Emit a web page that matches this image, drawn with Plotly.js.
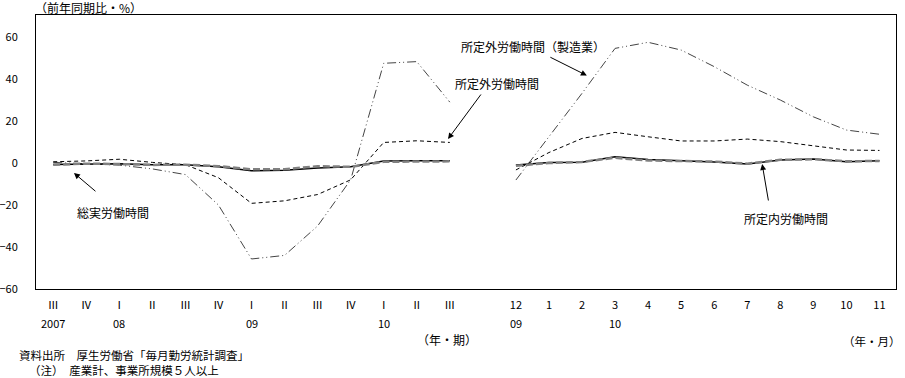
<!DOCTYPE html>
<html>
<head>
<meta charset="utf-8">
<script src="https://cdn.plot.ly/plotly-3.0.1.min.js"></script>
<style>html,body{margin:0;padding:0;background:#fff;}#chart{width:905px;height:378px;}</style>
</head>
<body>
<div id="chart"></div>
<script>
// ---- data ----
const quarterPos = [0,1,2,3,4,5,6,7,8,9,10,11,12];
const monthPos = [14,15,16,17,18,19,20,21,22,23,24,25];
const quarterLabels = ['Ⅲ','Ⅳ','Ⅰ','Ⅱ','Ⅲ','Ⅳ','Ⅰ','Ⅱ','Ⅲ','Ⅳ','Ⅰ','Ⅱ','Ⅲ'];
const quarterYears = ['2007','','08','','','','09','','','','10','',''];
const monthLabels = ['12','1','2','3','4','5','6','7','8','9','10','11'];
const monthYears = ['09','','','10','','','','','','','',''];

const totalQ = [-0.7,-0.5,-0.4,-0.8,-0.8,-1.8,-3.7,-3.5,-2.4,-1.8,1.0,1.1,1.1];
const totalM = [-1.0,0.2,0.4,3.0,1.7,1.1,0.5,-0.5,1.4,1.9,0.6,1.1];
const schedQ = [-0.8,-0.3,-0.5,-0.9,-0.8,-1.5,-3.0,-3.0,-1.5,-1.8,0.6,0.7,0.8];
const schedM = [-1.3,0.0,0.5,2.5,1.2,1.0,0.7,-0.3,1.5,1.8,0.8,1.0];
const overQ = [0.6,1.0,1.8,0.3,-0.8,-7.0,-19.2,-18.0,-15.0,-8.0,9.8,10.6,9.8];
const overM = [-3.3,5.0,11.7,14.6,12.5,10.5,10.5,11.4,10.2,8.3,6.2,6.0];
const mfgQ = [0.3,-0.5,-1.0,-2.8,-5.5,-20.0,-45.7,-44.0,-30.0,-8.0,47.5,48.3,29.0];
const mfgM = [-8.1,12.5,33.2,54.6,57.5,53.8,45.9,37.1,30.0,22.0,15.7,13.7];

// ---- helpers ----
const W = 905, H = 378;
const L = 35.5, R = 896.5, T = 15, B = 289;
const px = x => (x - L) / (R - L);
const py = y => (B - y) / (B - T);
const FONT = '"Noto Sans CJK JP", "Noto Sans", sans-serif';

const xs = quarterPos.concat([null], monthPos);
const join = (q, m) => q.concat([null], m);

const traces = [
  {x: xs, y: join(mfgQ, mfgM), mode: 'lines', connectgaps: false,
   line: {color: '#444', width: 1, dash: '9px,3px,1px,3px,1px,3px'}},
  {x: xs, y: join(overQ, overM), mode: 'lines', connectgaps: false,
   line: {color: '#000', width: 1, dash: '4px,3px'}},
  {x: xs, y: join(totalQ, totalM), mode: 'lines', connectgaps: false,
   line: {color: '#000', width: 1.5}},
  {x: xs, y: join(schedQ, schedM), mode: 'lines', connectgaps: false,
   line: {color: '#808080', width: 2.5, dash: '7px,3px'}}
];

const tickvals = quarterPos.concat(monthPos);
const ticktext = quarterLabels.concat(monthLabels);

const annotations = [];
// year row under tick labels
quarterPos.forEach((p, i) => { if (quarterYears[i]) annotations.push({x: p, xref: 'x', y: py(323), yref: 'paper', text: quarterYears[i], showarrow: false, xanchor: 'center', yanchor: 'middle', font: {size: 11}}); });
monthPos.forEach((p, i) => { if (monthYears[i]) annotations.push({x: p, xref: 'x', y: py(323), yref: 'paper', text: monthYears[i], showarrow: false, xanchor: 'center', yanchor: 'middle', font: {size: 11}}); });

const txt = (text, x, y, anchor, size) => ({x: px(x), y: py(y), xref: 'paper', yref: 'paper', text: text, showarrow: false, xanchor: anchor || 'center', yanchor: 'middle', font: {size: size || 12}});
annotations.push(txt('（前年同期比・%）', 88, 7));
annotations.push(txt('（年・期）', 447, 339));
annotations.push(txt('（年・月）', 904, 341, 'right', 11.5));
annotations.push(txt('資料出所　厚生労働省「毎月勤労統計調査」', 16, 355, 'left', 11.5));
annotations.push(txt('（注）　産業計、事業所規模５人以上', 26, 370.5, 'left', 11.5));
annotations.push(txt('総実労働時間', 113, 212));
annotations.push(txt('所定外労働時間（製造業）', 533, 47));
annotations.push(txt('所定外労働時間', 497, 83));
annotations.push(txt('所定内労働時間', 786, 218));

const arrow = (hx, hy, tx, ty) => ({x: px(hx), y: py(hy), xref: 'paper', yref: 'paper', ax: tx - hx, ay: ty - hy, text: '', showarrow: true, arrowhead: 2, arrowsize: 1.2, arrowwidth: 1, arrowcolor: '#000', standoff: 0, startstandoff: 0});
annotations.push(arrow(73.5, 173, 96.5, 192.5));
annotations.push(arrow(448, 139, 482, 93));
annotations.push(arrow(587, 75.5, 549, 56.5));
annotations.push(arrow(762.5, 164, 769, 202));

const layout = {
  width: W, height: H,
  margin: {l: L, r: W - R, t: T, b: H - B, pad: 0},
  paper_bgcolor: '#fff', plot_bgcolor: '#fff',
  showlegend: false,
  font: {family: FONT, size: 12, color: '#000'},
  xaxis: {range: [-0.52, 25.5], tickvals: tickvals, ticktext: ticktext, showgrid: false, zeroline: false,
          showline: true, mirror: true, linecolor: '#000', linewidth: 1, ticks: '', ticklabelstandoff: 6,
          tickfont: {size: 11}, fixedrange: true},
  yaxis: {range: [-60, 70.5], tickvals: [-60,-40,-20,0,20,40,60], showgrid: false, zeroline: false,
          showline: true, mirror: true, linecolor: '#000', linewidth: 1, ticks: '', ticklabelstandoff: 15,
          tickfont: {size: 11}, fixedrange: true},
  annotations: annotations
};

Plotly.newPlot('chart', traces, layout, {staticPlot: true, displayModeBar: false});
</script>
</body>
</html>
